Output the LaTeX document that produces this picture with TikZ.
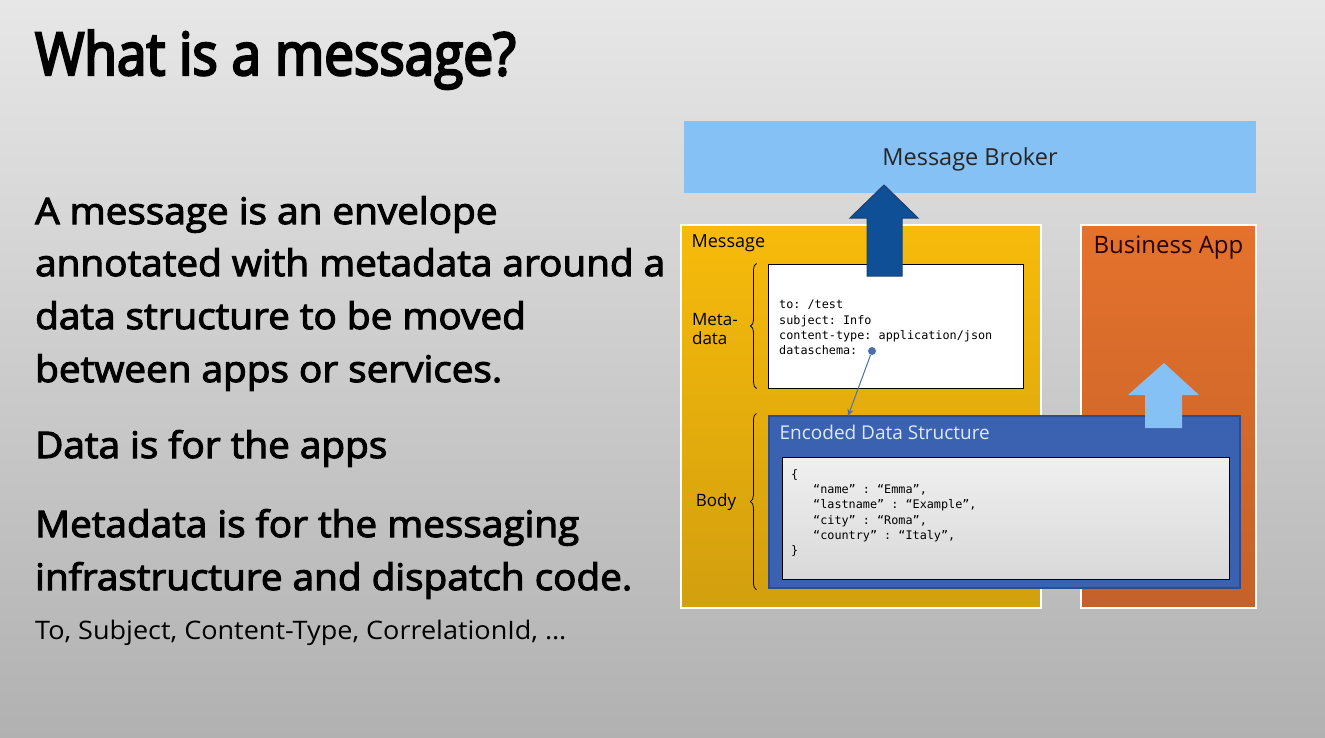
\documentclass[tikz,border=0pt]{standalone}
\usepackage{fontspec}
\setmainfont{Open Sans}
\setmonofont{DejaVu Sans Mono}
\newfontfamily\semifont{Open Sans}[FakeBold=3, FakeStretch=1.06]
\newfontfamily\titlefont{Open Sans}[FakeBold=4, FakeStretch=0.9]
\newfontfamily\widefont{Open Sans}[FakeStretch=1.06]
\usepackage{xcolor}
\usetikzlibrary{positioning,calc,arrows.meta,decorations.pathreplacing}

\definecolor{bgtop}{HTML}{E7E7E7}
\definecolor{bgbot}{HTML}{B1B1B1}
\definecolor{brokerblue}{HTML}{85C1F5}
\definecolor{msgyellow}{HTML}{F7BB0B}
\definecolor{msgyellowdark}{HTML}{D29F0E}
\definecolor{apporange}{HTML}{E4722C}
\definecolor{apporangedark}{HTML}{C4612A}
\definecolor{encblue}{HTML}{3B62B1}
\definecolor{encbluedark}{HTML}{2C4C8A}
\definecolor{enctext}{HTML}{DDEAF8}
\definecolor{arrowblue}{HTML}{0E4F95}
\definecolor{arrowline}{HTML}{1F3D6B}
\definecolor{dotblue}{HTML}{4B6FA8}

\begin{document}
\begin{tikzpicture}[x=1pt,y=-1pt,
		panel/.style={draw=white, line width=1.2pt, inner sep=0pt},
		codebox/.style={draw=black, line width=1pt, inner sep=0pt},
		code/.style={font=\ttfamily\fontsize{11.8}{15.3}\selectfont, align=left, anchor=north west, inner sep=0pt},
		bodytext/.style={font=\semifont\fontsize{36.5}{44}\selectfont, anchor=base west, inner sep=0pt},
		tag/.style={font=\fontsize{17}{19}\selectfont, inner sep=0pt, align=left}]
		\tikzset{databrace/.style={decorate, decoration={brace, amplitude=6pt}, line width=0.8pt}}
		% background
		\useasboundingbox (0,0) rectangle (1325,737);
		\shade[top color=bgtop, middle color=bgtop, bottom color=bgbot] (0,0) rectangle (1325,737);
		
		% left column
		\node[font=\titlefont\fontsize{59}{66}\selectfont, anchor=base west, inner sep=0pt] (title) at (35,75) {What is a message?};
		\foreach \y/\txt in {224/A message is an envelope, 276/annotated with metadata around a,
				329/data structure to be moved, 382/between apps or services.,
				458/Data is for the apps, 537/Metadata is for the messaging,
				590/infrastructure and dispatch code.}
			\node[bodytext] (line\y) at (35,\y) {\txt};
		\node[font=\widefont\fontsize{25.5}{28}\selectfont, anchor=base west, inner sep=0pt] (fields) at (35,639) {To, Subject, Content-Type, CorrelationId, \dots};
		
		% boxes
		\node[fill=brokerblue, minimum width=572, minimum height=72, inner sep=0pt, text depth=0pt,
			font=\fontsize{23.5}{26}\selectfont, text=black!85] (broker) at (970,157) {Message Broker};
		\node[panel, top color=msgyellow, bottom color=msgyellowdark, minimum width=360, minimum height=383] (msg) at (861,416.5) {};
		\node[panel, top color=apporange, bottom color=apporangedark, minimum width=175, minimum height=383] (app) at (1168.5,416.5) {};
		\node[font=\fontsize{18}{20}\selectfont, anchor=north west, inner sep=0pt] (msglabel) at ([xshift=11pt, yshift=-10pt]msg.north west) {Message};
		\node[font=\fontsize{24}{26}\selectfont, anchor=north, inner sep=0pt, text=black!85!red] (applabel) at ([yshift=-11pt]app.north) {Business App};
		
		\node[codebox, fill=white, minimum width=255, minimum height=124] (meta) at (895.5,326) {};
		\node[code] (headers) at (779,300) {to: /test\\subject: Info\\content-type: application/json\\dataschema:};
		
		\node[draw=encbluedark, line width=1.2pt, fill=encblue, minimum width=471, minimum height=172, inner sep=0pt] (enc) at (1004.5,502) {};
		\node[font=\fontsize{19}{22}\selectfont, text=enctext, anchor=north west, inner sep=0pt] (enclabel) at ([xshift=11pt, yshift=-9pt]enc.north west) {Encoded Data Structure};
		\node[codebox, top color=white!94!black, bottom color=white!85!black, minimum width=447, minimum height=122] (json) at (1005.5,518) {};
		\node[code] (payload) at (791,469) {\{\\
			\hspace*{22pt}“name” : “Emma”,\\
			\hspace*{22pt}“lastname” : “Example”,\\
			\hspace*{22pt}“city” : “Roma”,\\
			\hspace*{22pt}“country” : “Italy”,\\
			\}};
		
		% braces
		\draw[databrace] ([xshift=-11pt]meta.south west) -- ([xshift=-11pt]meta.north west);
		\draw[databrace] ([xshift=-12pt, yshift=-1pt]enc.south west) -- ([xshift=-12pt, yshift=2pt]enc.north west);
		\node[tag] (metatag) at (715,329) {Meta-\\data};
		\node[tag] (bodytag) at (716,502) {Body};
		
		% dataschema link
		\node[circle, fill=dotblue, inner sep=0pt, minimum size=8] (schemadot) at (872,351) {};
		\coordinate (schemaend) at (848,416);
		\draw[-{Stealth[length=7pt, width=6pt]}, dotblue, line width=1pt] (schemadot) -- (schemaend);
		
		% block arrows
		\draw[fill=arrowblue, draw=arrowline, line width=1pt] (867,276) -- (867,218) -- (850,218) -- (884,185)
			-- (918,218) -- (902,218) -- (902,276) -- cycle;
		\fill[brokerblue] (1145,428) -- (1145,395) -- (1128,395) -- (1164,363) -- (1199,395) -- (1182,395) -- (1182,428) -- cycle;
	\end{tikzpicture}
\end{document}
